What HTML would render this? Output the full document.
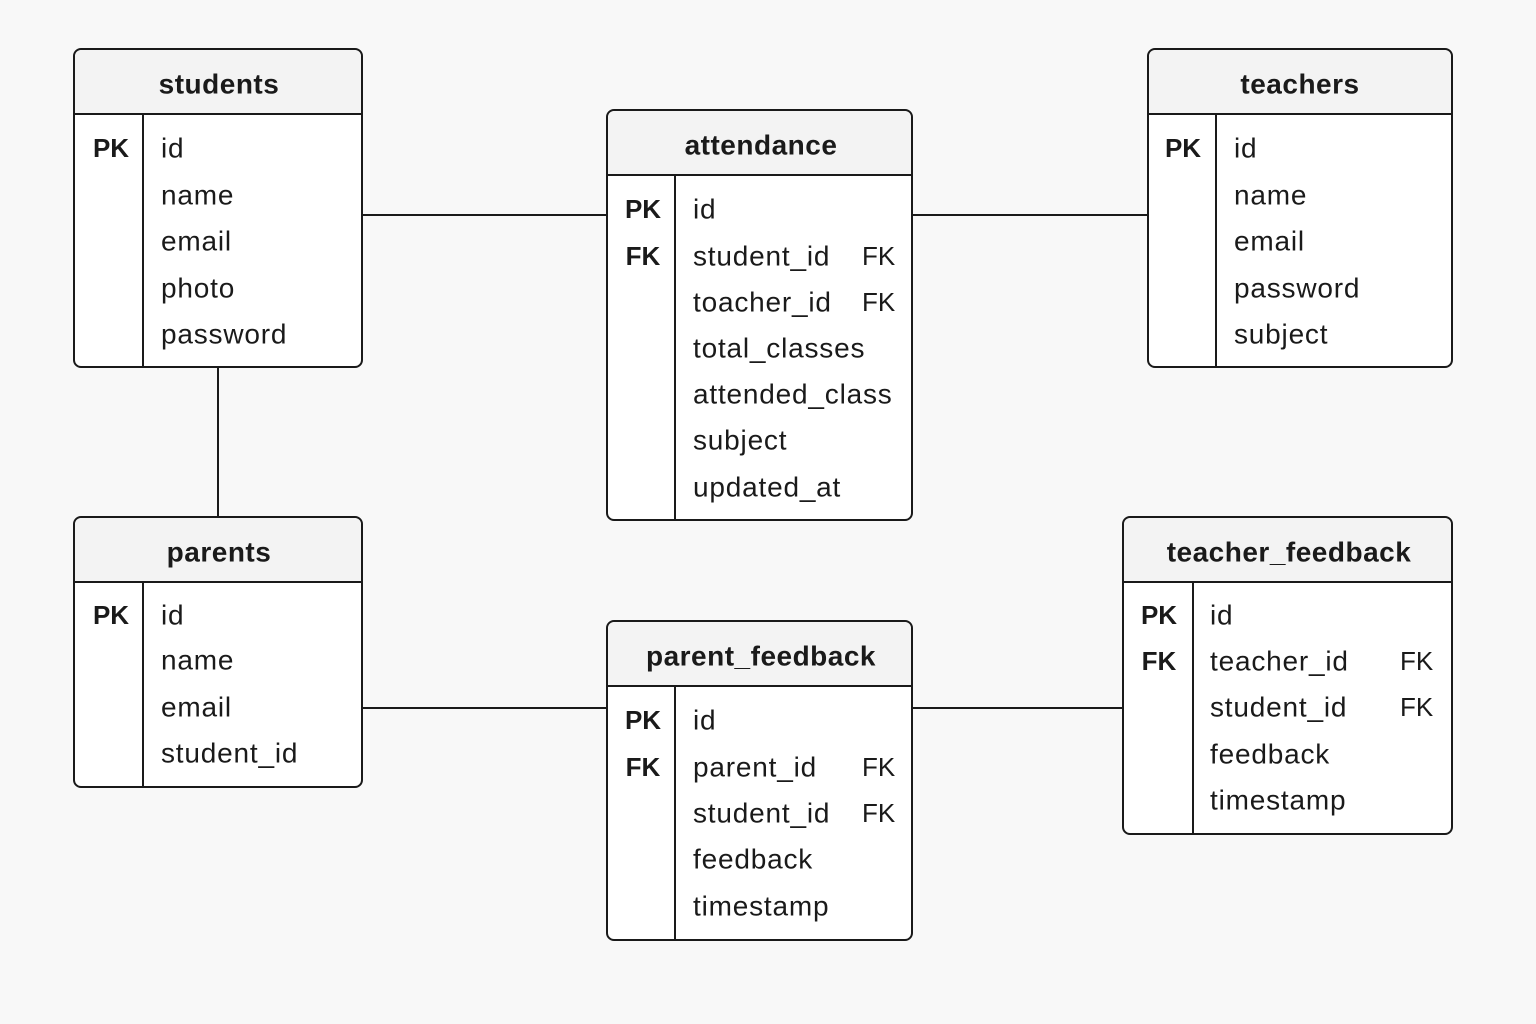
<!DOCTYPE html>
<html><head><meta charset="utf-8"><style>
html,body{margin:0;padding:0;background:#f8f8f8;}
svg{display:block;}
text{font-family:"Liberation Sans",sans-serif;fill:#1a1a1a;dominant-baseline:central;}
.h{font-size:28px;font-weight:bold;text-anchor:middle;letter-spacing:0.5px;}
.k{font-size:26px;font-weight:bold;text-anchor:middle;}
.f{font-size:28px;letter-spacing:0.8px;}
.fk{font-size:26px;}
</style></head><body>
<svg width="1536" height="1024" viewBox="0 0 1536 1024" xmlns="http://www.w3.org/2000/svg">
<g stroke="#1a1a1a" stroke-width="2">
<line x1="362" y1="215" x2="607" y2="215"/>
<line x1="912" y1="215" x2="1148" y2="215"/>
<line x1="218" y1="367" x2="218" y2="517"/>
<line x1="362" y1="708" x2="607" y2="708"/>
<line x1="912" y1="708" x2="1123" y2="708"/>
</g>
<g fill="#fff" stroke="#1a1a1a" stroke-width="2">
<rect x="74" y="49" width="288" height="318" rx="7"/>
<rect x="607" y="110" width="305" height="410" rx="7"/>
<rect x="1148" y="49" width="304" height="318" rx="7"/>
<rect x="74" y="517" width="288" height="270" rx="7"/>
<rect x="607" y="621" width="305" height="319" rx="7"/>
<rect x="1123" y="517" width="329" height="317" rx="7"/>
</g>
<g fill="#f3f3f3" stroke="none">
<path d="M75,114 V57 a7,7 0 0 1 7,-7 H354 a7,7 0 0 1 7,7 V114Z"/>
<path d="M608,175 V118 a7,7 0 0 1 7,-7 H904 a7,7 0 0 1 7,7 V175Z"/>
<path d="M1149,114 V57 a7,7 0 0 1 7,-7 H1444 a7,7 0 0 1 7,7 V114Z"/>
<path d="M75,582 V525 a7,7 0 0 1 7,-7 H354 a7,7 0 0 1 7,7 V582Z"/>
<path d="M608,686 V629 a7,7 0 0 1 7,-7 H904 a7,7 0 0 1 7,7 V686Z"/>
<path d="M1124,582 V525 a7,7 0 0 1 7,-7 H1444 a7,7 0 0 1 7,7 V582Z"/>
</g>
<g stroke="#1a1a1a" stroke-width="2">
<line x1="74" y1="114" x2="362" y2="114"/><line x1="143" y1="114" x2="143" y2="367"/>
<line x1="607" y1="175" x2="912" y2="175"/><line x1="675" y1="175" x2="675" y2="520"/>
<line x1="1148" y1="114" x2="1452" y2="114"/><line x1="1216" y1="114" x2="1216" y2="367"/>
<line x1="74" y1="582" x2="362" y2="582"/><line x1="143" y1="582" x2="143" y2="787"/>
<line x1="607" y1="686" x2="912" y2="686"/><line x1="675" y1="686" x2="675" y2="940"/>
<line x1="1123" y1="582" x2="1452" y2="582"/><line x1="1193" y1="582" x2="1193" y2="834"/>
</g>
<text class="h" x="219" y="84">students</text>
<text class="k" x="111" y="148">PK</text>
<text class="f" x="161" y="148">id</text><text class="f" x="161" y="195">name</text><text class="f" x="161" y="241">email</text><text class="f" x="161" y="288">photo</text><text class="f" x="161" y="334">password</text>

<text class="h" x="761" y="145">attendance</text>
<text class="k" x="643" y="209">PK</text><text class="k" x="643" y="256">FK</text>
<text class="f" x="693" y="209">id</text><text class="f" x="693" y="256">student_id</text><text class="f" x="693" y="302">toacher_id</text><text class="f" x="693" y="348">total_classes</text><text class="f" x="693" y="394">attended_class</text><text class="f" x="693" y="440">subject</text><text class="f" x="693" y="487">updated_at</text>
<text class="fk" x="862" y="256">FK</text><text class="fk" x="862" y="302">FK</text>

<text class="h" x="1300" y="84">teachers</text>
<text class="k" x="1183" y="148">PK</text>
<text class="f" x="1234" y="148">id</text><text class="f" x="1234" y="195">name</text><text class="f" x="1234" y="241">email</text><text class="f" x="1234" y="288">password</text><text class="f" x="1234" y="334">subject</text>

<text class="h" x="219" y="552">parents</text>
<text class="k" x="111" y="615">PK</text>
<text class="f" x="161" y="615">id</text><text class="f" x="161" y="660">name</text><text class="f" x="161" y="707">email</text><text class="f" x="161" y="753">student_id</text>

<text class="h" x="761" y="656">parent_feedback</text>
<text class="k" x="643" y="720">PK</text><text class="k" x="643" y="767">FK</text>
<text class="f" x="693" y="720">id</text><text class="f" x="693" y="767">parent_id</text><text class="f" x="693" y="813">student_id</text><text class="f" x="693" y="859">feedback</text><text class="f" x="693" y="906">timestamp</text>
<text class="fk" x="862" y="767">FK</text><text class="fk" x="862" y="813">FK</text>

<text class="h" x="1289" y="552">teacher_feedback</text>
<text class="k" x="1159" y="615">PK</text><text class="k" x="1159" y="661">FK</text>
<text class="f" x="1210" y="615">id</text><text class="f" x="1210" y="661">teacher_id</text><text class="f" x="1210" y="707">student_id</text><text class="f" x="1210" y="754">feedback</text><text class="f" x="1210" y="800">timestamp</text>
<text class="fk" x="1400" y="661">FK</text><text class="fk" x="1400" y="707">FK</text>
</svg>
</body></html>
